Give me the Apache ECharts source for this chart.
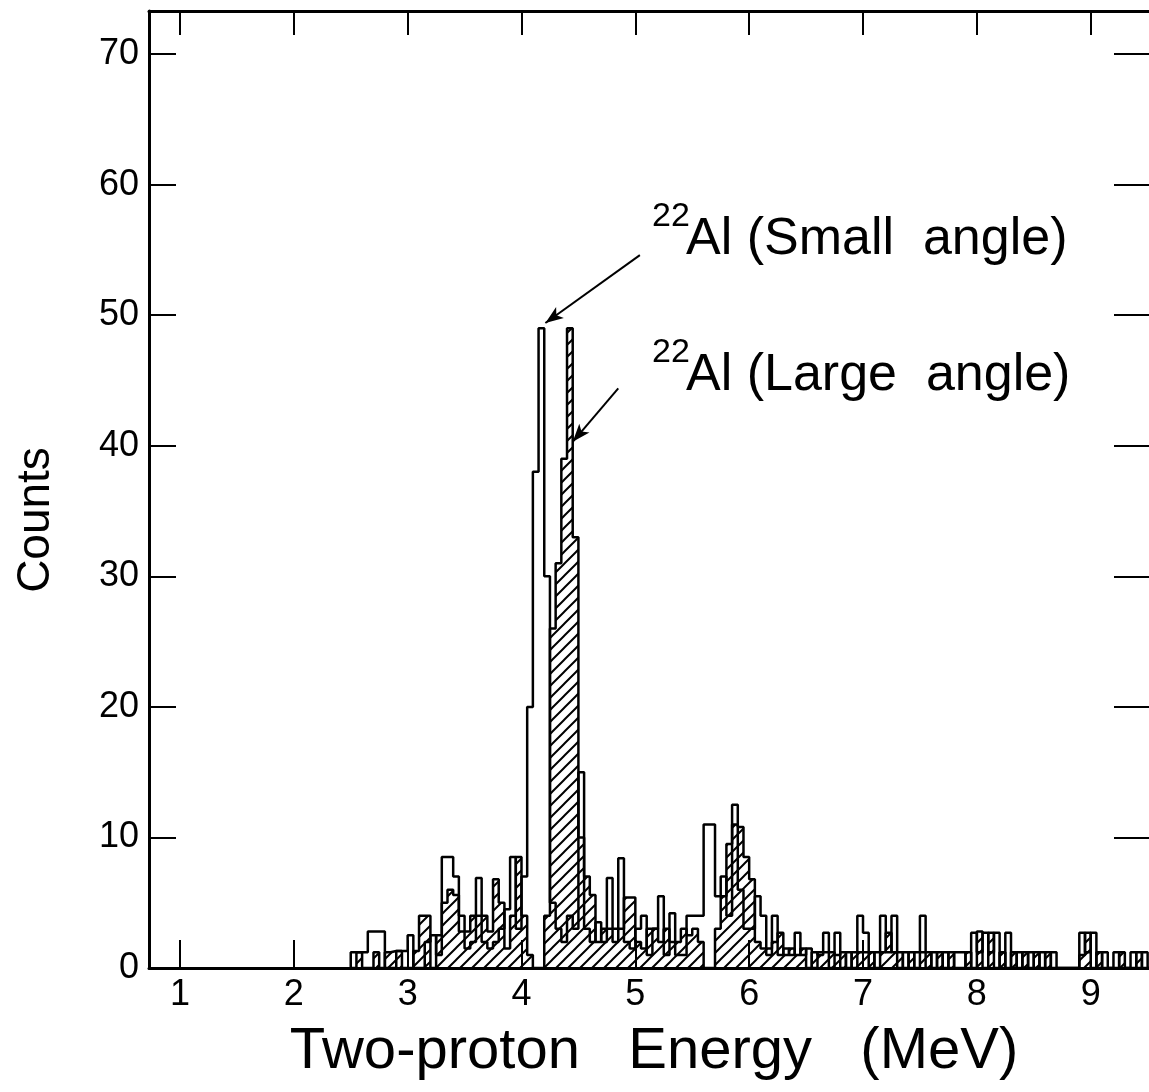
<!DOCTYPE html>
<html>
<head>
<meta charset="utf-8">
<script src="https://cdn.jsdelivr.net/npm/echarts@6/dist/echarts.min.js"></script>
<style>
    html, body { margin: 0; padding: 0; background: #fff; }
    #main { width: 1149px; height: 1092px; }
</style>
</head>
<body>
<div id="main"></div>
<script>
// histogram bins, 0.05 MeV wide, first bin starts at 2.50 MeV
var binStart = 2.5;
var binWidth = 0.05;

// 22Al, small angle (open histogram)
var smallAngle = [
    1.2, 1.2, 1.2, 2.8, 2.8, 2.8, 0, 0, 1.3, 1.3,
    2.5, 0, 0, 2, 2.5, 1, 8.5, 8.5, 7, 4,
    1.5, 2, 6.9, 2, 1.5, 2, 3, 4.5, 8.5, 3,
    7, 20, 38, 49, 30, 5, 3, 2, 4, 3,
    15, 3, 2, 3.5, 2, 6.9, 3, 8.4, 2, 1.5,
    3, 4, 1, 3, 5.5, 1, 4.2, 1, 1, 4,
    4, 4, 11, 11, 5.5, 7, 4, 12.5, 6, 3,
    3, 5.5, 4, 1, 4, 1, 1.5, 1, 2.7, 1,
    1.5, 0, 1.2, 2.7, 0, 2.7, 0, 1.2, 0, 4,
    2.7, 0, 1.2, 4, 1.2, 4, 0, 1.2, 0, 1.2,
    4, 0, 1.2, 0, 1.2, 0, 1.2, 1.2, 0, 2.7,
    1.2, 2.7, 1.2, 2.7, 0, 2.7, 0, 1.2, 0, 1.2,
    0, 1.2, 0, 1.2, 0, 0, 0, 0, 2.7, 1.2,
    2.7, 0, 1.2, 0, 1.2, 0, 0, 1.2, 0, 1.2,
    0
];

// 22Al, large angle (hatched histogram)
var largeAngle = [
    0, 1.2, 0, 0, 1.2, 0, 1.2, 1.3, 1.3, 0,
    0, 1.3, 4, 4, 0, 2.5, 5, 6, 5.6, 2.8,
    2.8, 4, 4, 4, 2.8, 6.8, 5, 1.5, 4, 8.5,
    4, 1, 0, 0, 4, 26, 31, 39, 49, 33,
    10, 7, 5.6, 2, 3, 3, 2, 3, 5.4, 5.4,
    2, 1.5, 3, 3, 2, 3, 2, 2, 3, 2.5,
    3, 2, 0, 0, 3, 5.5, 9.5, 11, 10.8, 8.5,
    6.8, 2, 1.5, 1.5, 2, 2.7, 1, 1.5, 1, 1.5,
    0, 1.2, 1, 1.2, 1.2, 1, 1.2, 0, 1.2, 1.2,
    1.2, 1.2, 0, 1.2, 2.7, 1.2, 1.2, 0, 1.2, 0,
    1.2, 1.2, 0, 1.2, 0, 1.2, 0, 0, 1.2, 0,
    2.8, 0, 2.7, 0, 1.2, 0, 1.2, 0, 1.2, 0,
    1.2, 0, 1.2, 0, 0, 0, 0, 0, 1, 2.7,
    0, 1.2, 0, 0, 0, 1.2, 0, 0, 1.2, 0,
    0
];

var xTicks = [1, 2, 3, 4, 5, 6, 7, 8, 9];
var yTicks = [0, 10, 20, 30, 40, 50, 60, 70];

// arrows: [tail, head] in (MeV, counts)
var arrowSmall = [[5.04, 54.6], [4.21, 49.4]];
var arrowLarge = [[4.85, 44.4], [4.45, 40.3]];

var font = '"Liberation Sans", Arial, Helvetica, sans-serif';

function toSteps(values) {
    var pts = [[binStart, 0]];
    for (var i = 0; i < values.length; i++) {
        pts.push([+(binStart + i * binWidth).toFixed(3), values[i]]);
    }
    pts.push([+(binStart + values.length * binWidth).toFixed(3), 0]);
    return pts;
}

// diagonal hatch "/" for the large angle histogram
function hatchPattern() {
    var c = document.createElement('canvas');
    c.width = 12;
    c.height = 12;
    var ctx = c.getContext('2d');
    ctx.strokeStyle = '#000';
    ctx.lineWidth = 2;
    ctx.beginPath();
    ctx.moveTo(0, 12); ctx.lineTo(12, 0);
    ctx.moveTo(-2, 2); ctx.lineTo(2, -2);
    ctx.moveTo(10, 14); ctx.lineTo(14, 10);
    ctx.stroke();
    return c;
}

var myChart = echarts.init(document.getElementById('main'));

var frameLine = { show: true, onZero: false, lineStyle: { color: '#000', width: 3 } };

option = {
    animation: false,
    backgroundColor: '#fff',
    grid: { left: 149, top: 11, width: 1010, height: 957, outerBoundsMode: 'none', containLabel: false },
    xAxis: [{
        type: 'value',
        position: 'bottom',
        min: 0.728,
        max: 9.6,
        axisLine: frameLine,
        axisTick: { inside: true, length: 28, customValues: xTicks, lineStyle: { color: '#000', width: 2 } },
        axisLabel: { customValues: xTicks, color: '#000', fontSize: 36, fontFamily: font, margin: 9 },
        splitLine: { show: false },
        name: 'Two-proton   Energy   (MeV)',
        nameLocation: 'middle',
        nameGap: 55,
        nameTextStyle: { color: '#000', fontSize: 58, fontFamily: font }
    }, {
        type: 'value',
        position: 'top',
        min: 0.728,
        max: 9.6,
        axisLine: frameLine,
        axisTick: { inside: true, length: 24, customValues: xTicks, lineStyle: { color: '#000', width: 2 } },
        axisLabel: { show: false },
        splitLine: { show: false }
    }],
    yAxis: [{
        type: 'value',
        position: 'left',
        min: 0,
        max: 73.3,
        axisLine: frameLine,
        axisTick: { inside: true, length: 27, customValues: yTicks, lineStyle: { color: '#000', width: 2 } },
        axisLabel: { customValues: yTicks, color: '#000', fontSize: 36, fontFamily: font, margin: 10 },
        splitLine: { show: false }
    }, {
        type: 'value',
        position: 'right',
        min: 0,
        max: 73.3,
        axisLine: frameLine,
        axisTick: { inside: true, length: 45, customValues: yTicks, lineStyle: { color: '#000', width: 2 } },
        axisLabel: { show: false },
        splitLine: { show: false }
    }],
    series: [{
        name: 'Large angle',
        type: 'line',
        step: 'end',
        showSymbol: false,
        z: 2,
        lineStyle: { color: '#000', width: 2.5 },
        areaStyle: { color: { image: hatchPattern(), repeat: 'repeat' }, opacity: 1 },
        data: toSteps(largeAngle)
    }, {
        name: 'Small angle',
        type: 'line',
        step: 'end',
        showSymbol: false,
        z: 3,
        lineStyle: { color: '#000', width: 2.5 },
        data: toSteps(smallAngle),
        markLine: {
            silent: true,
            symbol: ['none', 'arrow'],
            symbolSize: [10, 18],
            lineStyle: { color: '#000', width: 2, type: 'solid' },
            label: { show: false },
            data: [
                [{ coord: arrowSmall[0] }, { coord: arrowSmall[1] }],
                [{ coord: arrowLarge[0] }, { coord: arrowLarge[1] }]
            ]
        }
    }],
    graphic: [
        { type: 'text', x: 652, y: 217, style: { text: '22', fontSize: 34, fontFamily: font, fill: '#000', align: 'left', verticalAlign: 'middle', textAlign: 'left', textVerticalAlign: 'middle' } },
        { type: 'text', x: 686, y: 240, style: { text: 'Al (Small  angle)', fontSize: 52, fontFamily: font, fill: '#000', align: 'left', verticalAlign: 'middle', textAlign: 'left', textVerticalAlign: 'middle' } },
        { type: 'text', x: 652, y: 353, style: { text: '22', fontSize: 34, fontFamily: font, fill: '#000', align: 'left', verticalAlign: 'middle', textAlign: 'left', textVerticalAlign: 'middle' } },
        { type: 'text', x: 686, y: 376, style: { text: 'Al (Large  angle)', fontSize: 52, fontFamily: font, fill: '#000', align: 'left', verticalAlign: 'middle', textAlign: 'left', textVerticalAlign: 'middle' } },
        { type: 'text', x: 36, y: 520, rotation: Math.PI / 2, style: { text: 'Counts', fontSize: 46, fontFamily: font, fill: '#000', align: 'center', verticalAlign: 'middle', textAlign: 'center', textVerticalAlign: 'middle' } }
    ]
};

myChart.setOption(option);
</script>
</body>
</html>
